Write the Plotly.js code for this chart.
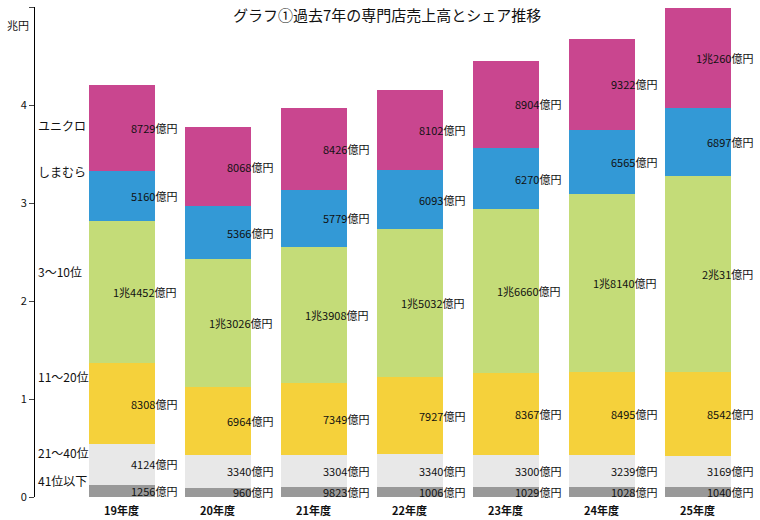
<!DOCTYPE html>
<html><head><meta charset="utf-8">
<script src="https://cdn.plot.ly/plotly-3.0.1.min.js"></script>
<style>body{margin:0}#chart{width:760px;height:520px}</style>
</head><body><div id="chart"></div>
<script>
const years = ["19年度", "20年度", "21年度", "22年度", "23年度", "24年度", "25年度"]
// values in 兆円 (bottom to top)
const rank41 = [0.1256, 0.0960, 0.0982, 0.1006, 0.1029, 0.1028, 0.1040]
const rank21 = [0.4124, 0.3340, 0.3304, 0.3340, 0.3300, 0.3239, 0.3169]
const rank11 = [0.8308, 0.6964, 0.7349, 0.7927, 0.8367, 0.8495, 0.8542]
const rank3 = [1.4452, 1.3026, 1.3908, 1.5032, 1.6660, 1.8140, 2.0031]
const shimamura = [0.5160, 0.5366, 0.5779, 0.6093, 0.6270, 0.6565, 0.6897]
const uniqlo = [0.8729, 0.8068, 0.8426, 0.8102, 0.8904, 0.9322, 1.0260]
const labels41 = ["1256億円", "960億円", "9823億円", "1006億円", "1029億円", "1028億円", "1040億円"]
const labels21 = ["4124億円", "3340億円", "3304億円", "3340億円", "3300億円", "3239億円", "3169億円"]
const labels11 = ["8308億円", "6964億円", "7349億円", "7927億円", "8367億円", "8495億円", "8542億円"]
const labels3 = ["1兆4452億円", "1兆3026億円", "1兆3908億円", "1兆5032億円", "1兆6660億円", "1兆8140億円", "2兆31億円"]
const labelsShima = ["5160億円", "5366億円", "5779億円", "6093億円", "6270億円", "6565億円", "6897億円"]
const labelsUni = ["8729億円", "8068億円", "8426億円", "8102億円", "8904億円", "9322億円", "1兆260億円"]
const segNames = ["41位以下", "21～40位", "11～20位", "3～10位", "しまむら", "ユニクロ"]

const series = [rank41, rank21, rank11, rank3, shimamura, uniqlo]
const segLabels = [labels41, labels21, labels11, labels3, labelsShima, labelsUni]
const colors = ["#999999", "#e8e8e8", "#f5d13b", "#c4dc78", "#3399d6", "#c9468f"]
const xs = years.map((_, i) => i)

const data = series.map((s, k) => ({
    type: 'bar', x: xs, y: s, name: segNames[k], width: 0.68,
    marker: { color: colors[k] }, hoverinfo: 'skip'
}))

const annotations = []
const base = xs.map(() => 0)
series.forEach((s, k) => {
    s.forEach((v, i) => {
        annotations.push({
            x: i, y: base[i] + v / 2, xref: 'x', yref: 'y', text: segLabels[k][i],
            showarrow: false, xanchor: 'right', xshift: 57, font: { size: 11, color: '#111' }
        })
        base[i] += v
    })
})
// series names at left of first bar
const namePos = [0.012, 0.07, 0.225, 0.46, 0.665, 0.78]
segNames.forEach((n, k) => {
    annotations.push({ x: 0.002, y: namePos[k], xref: 'paper', yref: 'paper', text: n,
        showarrow: false, xanchor: 'left', font: { size: 12, color: '#111' } })
})
years.forEach((yr, i) => {
    annotations.push({ x: i, y: 0, xref: 'paper', yref: 'paper', yanchor: 'top', yshift: -3,
        xref: 'x', text: '<b>' + yr + '</b>', showarrow: false, font: { size: 11, color: '#111' } })
})
annotations.push({ x: 0, y: 1, xref: 'paper', yref: 'paper', xanchor: 'right', yanchor: 'top',
    xshift: -4, yshift: -8, text: '兆円', showarrow: false, font: { size: 11, color: '#111' } })
annotations.push({ x: 0.485, y: 1, xref: 'paper', yref: 'paper', yanchor: 'top', yshift: 5,
    text: 'グラフ①過去7年の専門店売上高とシェア推移', showarrow: false, font: { size: 15, color: '#111' } })

const layout = {
    width: 760, height: 520,
    margin: { l: 35, r: 0, t: 7, b: 23 },
    barmode: 'stack', showlegend: false,
    font: { family: 'Noto Sans CJK JP, sans-serif', color: '#111' },
    paper_bgcolor: '#fff', plot_bgcolor: '#fff',
    xaxis: { range: [-0.906, 6.646], showticklabels: false, showgrid: false, zeroline: false, showline: false },
    yaxis: { range: [0, 5.001], tickvals: [0, 1, 2, 3, 4, 5], showgrid: false, zeroline: false, showline: true,
        linecolor: '#000', ticks: 'outside', ticklen: 5, tickfont: { size: 11 } },
    annotations: annotations
}
Plotly.newPlot('chart', data, layout, { displayModeBar: false, staticPlot: true })
</script></body></html>
